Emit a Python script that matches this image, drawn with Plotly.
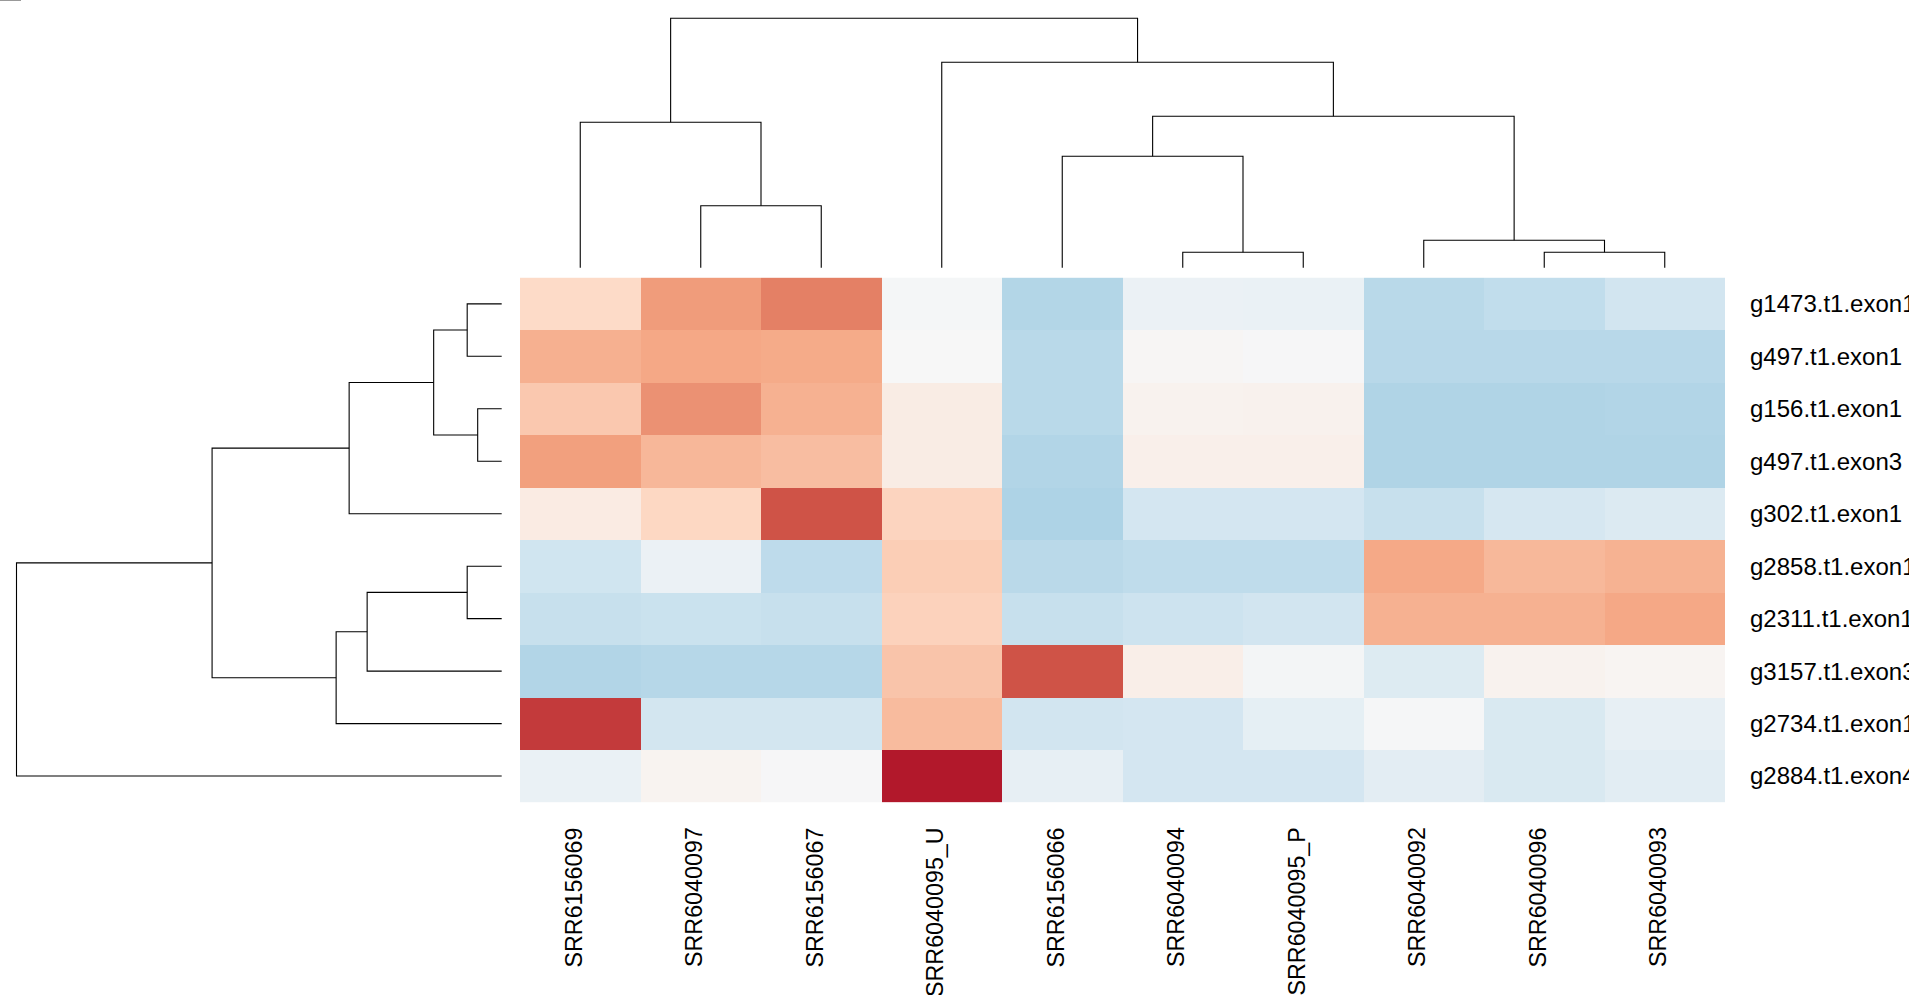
import plotly.graph_objects as go

# ---------------- data ----------------
col_labels = ["SRR6156069", "SRR6040097", "SRR6156067", "SRR6040095_U", "SRR6156066",
              "SRR6040094", "SRR6040095_P", "SRR6040092", "SRR6040096", "SRR6040093"]
row_labels = ["g1473.t1.exon1", "g497.t1.exon1", "g156.t1.exon1", "g497.t1.exon3",
              "g302.t1.exon1", "g2858.t1.exon1", "g2311.t1.exon1", "g3157.t1.exon3",
              "g2734.t1.exon1", "g2884.t1.exon4"]

# row-scaled values (z-scores), rows top->bottom, columns left->right
g1473_t1_exon1 = [0.70, 1.52, 1.81, -0.05, -1.05, -0.23, -0.24, -0.98, -0.89, -0.70]
g497_t1_exon1 = [1.28, 1.38, 1.35, 0.00, -0.98, 0.05, -0.02, -1.00, -1.00, -1.00]
g156_t1_exon1 = [0.96, 1.63, 1.27, 0.28, -0.98, 0.13, 0.15, -1.09, -1.09, -1.06]
g497_t1_exon3 = [1.48, 1.19, 1.11, 0.28, -1.06, 0.20, 0.20, -1.09, -1.09, -1.09]
g302_t1_exon1 = [0.30, 0.75, 2.27, 0.80, -1.11, -0.66, -0.66, -0.83, -0.62, -0.50]
g2858_t1_exon1 = [-0.72, -0.23, -0.93, 0.89, -0.97, -0.92, -0.92, 1.37, 1.18, 1.26]
g2311_t1_exon1 = [-0.83, -0.79, -0.82, 0.83, -0.83, -0.76, -0.70, 1.27, 1.27, 1.38]
g3157_t1_exon3 = [-1.06, -1.02, -1.02, 1.01, 2.27, 0.22, -0.07, -0.48, 0.13, 0.08]
g2734_t1_exon1 = [2.51, -0.68, -0.68, 1.14, -0.70, -0.66, -0.33, -0.03, -0.57, -0.30]
g2884_t1_exon4 = [-0.25, 0.10, -0.02, 2.85, -0.30, -0.66, -0.66, -0.38, -0.57, -0.40]

# column dendrogram merges: (left, right, height)
col_merges = [
    ("SRR6040097", "SRR6156067", 1.24),   # c1
    ("SRR6156069", "c1", 2.91),           # c2
    ("SRR6040094", "SRR6040095_P", 0.31), # c3
    ("SRR6040096", "SRR6040093", 0.31),   # c4
    ("SRR6040092", "c4", 0.55),           # c5
    ("SRR6156066", "c3", 2.23),           # c6
    ("c6", "c5", 3.03),                   # c7
    ("SRR6040095_U", "c7", 4.11),         # c8
    ("c2", "c8", 4.99),                   # c9
]
# row dendrogram merges: (left, right, height)
row_merges = [
    ("g1473.t1.exon1", "g497.t1.exon1", 0.69),   # c1
    ("g156.t1.exon1", "g497.t1.exon3", 0.48),    # c2
    ("c1", "c2", 1.36),                          # c3
    ("c3", "g302.t1.exon1", 3.05),               # c4
    ("g2858.t1.exon1", "g2311.t1.exon1", 0.69),  # c5
    ("c5", "g3157.t1.exon3", 2.69),              # c6
    ("c6", "g2734.t1.exon1", 3.31),              # c7
    ("c4", "c7", 5.79),                          # c8
    ("c8", "g2884.t1.exon4", 9.70),              # c9
]

z = [g1473_t1_exon1, g497_t1_exon1, g156_t1_exon1, g497_t1_exon3, g302_t1_exon1,
     g2858_t1_exon1, g2311_t1_exon1, g3157_t1_exon3, g2734_t1_exon1, g2884_t1_exon4]

# ---------------- helpers ----------------
W, H = 1909, 995


def dendro_segments(leaves, merges):
    pos = {name: float(i) for i, name in enumerate(leaves)}
    hgt = {name: 0.0 for name in leaves}
    a_list, b_list = [], []   # a = leaf-axis coordinate, b = height coordinate
    for k, (l, r, h) in enumerate(merges, start=1):
        pl, pr = pos[l], pos[r]
        a_list += [pl, pl, pr, pr, None]
        b_list += [hgt[l], h, h, hgt[r], None]
        cid = "c%d" % k
        pos[cid] = (pl + pr) / 2.0
        hgt[cid] = h
    return a_list, b_list


def px_range(lo_px, hi_px, v_at_lo, v_at_hi, dom_lo_px, dom_hi_px):
    k = (v_at_hi - v_at_lo) / (hi_px - lo_px)
    return [v_at_lo + (dom_lo_px - lo_px) * k, v_at_lo + (dom_hi_px - lo_px) * k]


col_rgb = [[0.0, "#2166AC"], [0.125, "#4393C3"], [0.25, "#92C5DE"], [0.375, "#D1E5F0"],
           [0.5, "#F7F7F7"], [0.625, "#FDDBC7"], [0.75, "#F4A582"], [0.875, "#D6604D"],
           [1.0, "#B2182B"]]
zmax = max(abs(v) for row in z for v in row)

# heatmap geometry (pixels)
hm_left, hm_right, hm_top, hm_bottom = 520.0, 1725.0, 277.6, 802.3

fig = go.Figure()

fig.add_trace(go.Heatmap(
    z=z, x=list(range(len(col_labels))), y=list(range(len(row_labels))),
    colorscale=col_rgb, zmin=-zmax, zmax=zmax, showscale=False,
    xaxis="x", yaxis="y", hoverinfo="skip"))

# column dendrogram
ca, cb = dendro_segments(col_labels, col_merges)
fig.add_trace(go.Scatter(x=ca, y=cb, mode="lines", line=dict(color="black", width=1.1),
                         xaxis="x2", yaxis="y2", hoverinfo="skip", showlegend=False))

# row dendrogram
ra, rb = dendro_segments(row_labels, row_merges)
fig.add_trace(go.Scatter(x=rb, y=ra, mode="lines", line=dict(color="black", width=1.1),
                         xaxis="x3", yaxis="y3", hoverinfo="skip", showlegend=False))

font_family = "Liberation Sans, Arial, sans-serif"

col_root = col_merges[-1][2]
row_root = row_merges[-1][2]

# column dendro vertical mapping: 0 at y=267.7px, root at y=18.3px; domain 8..272 px
cd_top_px, cd_bot_px = 8.0, 272.0
ydom2 = [1 - cd_bot_px / H, 1 - cd_top_px / H]
yr2 = px_range(267.7, 18.3, 0.0, col_root, cd_bot_px, cd_top_px)

# row dendro horizontal mapping: 0 at x=501.7px, root at x=16.5px; domain 8..506 px
rd_l_px, rd_r_px = 8.0, 506.0
xdom3 = [rd_l_px / W, rd_r_px / W]
xr3 = px_range(501.7, 16.5, 0.0, row_root, rd_r_px, rd_l_px)
xr3 = [xr3[1], xr3[0]]

ncol, nrow = len(col_labels), len(row_labels)

# column labels as rotated annotations under the heatmap
annotations = []
for i, lab in enumerate(col_labels):
    annotations.append(dict(
        x=i, y=1 - hm_bottom / H, xref="x", yref="paper", text=lab, showarrow=False,
        textangle=-90, xanchor="center", yanchor="top", xshift=-6, yshift=-24,
        font=dict(size=23.3, color="black", family=font_family), borderpad=0))

fig.update_layout(
    width=W, height=H,
    margin=dict(l=0, r=0, t=0, b=0, autoexpand=False),
    paper_bgcolor="white", plot_bgcolor="white",
    font=dict(family=font_family, color="black"),
    showlegend=False,
    xaxis=dict(domain=[hm_left / W, hm_right / W], range=[-0.5, ncol - 0.5],
               showticklabels=False, ticks="", showgrid=False, zeroline=False,
               showline=False, anchor="y", fixedrange=True, automargin=False),
    yaxis=dict(domain=[1 - hm_bottom / H, 1 - hm_top / H], range=[nrow - 0.5, -0.5],
               tickvals=list(range(nrow)), ticktext=row_labels, side="right",
               ticks="", showgrid=False, zeroline=False, showline=False,
               tickfont=dict(size=24, color="black", family=font_family),
               ticklabelstandoff=24, anchor="x", fixedrange=True, automargin=False),
    xaxis2=dict(domain=[hm_left / W, hm_right / W], range=[-0.5, ncol - 0.5],
                visible=False, anchor="y2", fixedrange=True, automargin=False),
    yaxis2=dict(domain=ydom2, range=yr2, visible=False, anchor="x2", fixedrange=True,
                automargin=False),
    xaxis3=dict(domain=xdom3, range=xr3, visible=False, anchor="y3", fixedrange=True,
                automargin=False),
    yaxis3=dict(domain=[1 - hm_bottom / H, 1 - hm_top / H], range=[nrow - 0.5, -0.5],
                visible=False, anchor="x3", fixedrange=True, automargin=False),
    annotations=annotations,
    shapes=[dict(type="line", xref="paper", yref="paper", x0=0, x1=21 / W,
                 y0=1 - 0.5 / H, y1=1 - 0.5 / H, line=dict(color="#999999", width=1))],
)

fig.write_html("out.html")
